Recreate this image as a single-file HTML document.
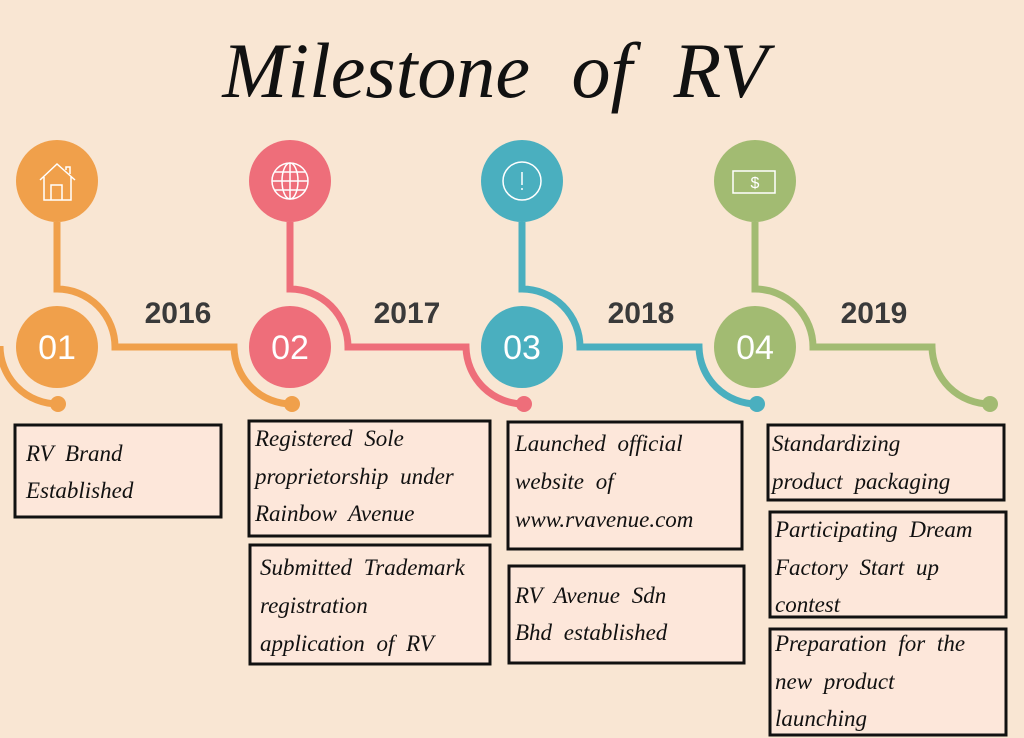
<!DOCTYPE html>
<html><head><meta charset="utf-8"><style>
html,body{margin:0;padding:0;background:#F9E6D3;}
svg{display:block}
.t{font-family:"Liberation Serif",serif;font-style:italic;font-size:23px;fill:#111;word-spacing:6px}
.y{font-family:"Liberation Sans",sans-serif;font-weight:bold;font-size:30px;fill:#3a3a3a}
.n{font-family:"Liberation Sans",sans-serif;font-size:34px;fill:#fff}
.b{fill:#FDE7DA;stroke:#111;stroke-width:3}
</style></head><body>
<svg width="1024" height="738" viewBox="0 0 1024 738">
<rect width="1024" height="738" fill="#F9E6D3"/>
<text x="495" y="97" text-anchor="middle" font-family="Liberation Serif,serif" font-style="italic" font-size="78" fill="#111" word-spacing="22">Milestone of RV</text>
<g fill="none" stroke-width="7">
<path d="M0,346 A58,58 0 0 0 58,404" stroke="#F0A04B"/>
<path d="M57,222 V289 A58,58 0 0 1 115,347 H234 A58,58 0 0 0 292,404" stroke="#F0A04B"/>
<path d="M290,222 V289 A58,58 0 0 1 348,347 H466 A58,58 0 0 0 524,404" stroke="#EE6E7A"/>
<path d="M522,222 V289 A58,58 0 0 1 580,347 H699 A58,58 0 0 0 757,404" stroke="#4AAFBF"/>
<path d="M755,222 V289 A58,58 0 0 1 813,347 H932 A58,58 0 0 0 990,404" stroke="#A2BB72"/>
</g>
<circle cx="58" cy="404" r="8" fill="#F0A04B"/>
<circle cx="292" cy="404" r="8" fill="#F0A04B"/>
<circle cx="524" cy="404" r="8" fill="#EE6E7A"/>
<circle cx="757" cy="404" r="8" fill="#4AAFBF"/>
<circle cx="990" cy="404" r="8" fill="#A2BB72"/>
<circle cx="57" cy="181" r="41" fill="#F0A04B"/>
<circle cx="290" cy="181" r="41" fill="#EE6E7A"/>
<circle cx="522" cy="181" r="41" fill="#4AAFBF"/>
<circle cx="755" cy="181" r="41" fill="#A2BB72"/>
<circle cx="57" cy="347" r="41" fill="#F0A04B"/>
<circle cx="290" cy="347" r="41" fill="#EE6E7A"/>
<circle cx="522" cy="347" r="41" fill="#4AAFBF"/>
<circle cx="755" cy="347" r="41" fill="#A2BB72"/>
<g fill="none" stroke="#fff" stroke-width="1.5">
<path d="M40,180 L57,164 L75,180 M44,177 V200 H71 V177 M51,200 V185 H62 V200 M66,170 V167 H70 V174"/>
<circle cx="290" cy="181" r="18"/><ellipse cx="290" cy="181" rx="8" ry="18"/><path d="M290,163 V199 M272,181 H308 M275,172 H305 M275,190 H305"/>
<circle cx="522" cy="181" r="19"/><path d="M522,172 V185 M522,188 V190"/>
<rect x="733" y="171" width="42" height="22"/>
</g>
<text x="755" y="188" text-anchor="middle" font-family="Liberation Sans,sans-serif" font-size="16" fill="#fff">$</text>
<text class="n" x="57" y="359" text-anchor="middle">01</text>
<text class="n" x="290" y="359" text-anchor="middle">02</text>
<text class="n" x="522" y="359" text-anchor="middle">03</text>
<text class="n" x="755" y="359" text-anchor="middle">04</text>
<text class="y" x="178" y="323" text-anchor="middle">2016</text>
<text class="y" x="407" y="323" text-anchor="middle">2017</text>
<text class="y" x="641" y="323" text-anchor="middle">2018</text>
<text class="y" x="874" y="323" text-anchor="middle">2019</text>
<rect class="b" x="15" y="425" width="206" height="92"/>
<text class="t" x="26" y="461">RV Brand</text><text class="t" x="26" y="498">Established</text>
<rect class="b" x="249" y="421" width="241" height="115"/>
<text class="t" x="255" y="446">Registered Sole</text><text class="t" x="255" y="484">proprietorship under</text><text class="t" x="255" y="521">Rainbow Avenue</text>
<rect class="b" x="250" y="545" width="240" height="119"/>
<text class="t" x="260" y="575">Submitted Trademark</text><text class="t" x="260" y="613">registration</text><text class="t" x="260" y="651">application of RV</text>
<rect class="b" x="508" y="422" width="234" height="127"/>
<text class="t" x="515" y="451">Launched official</text><text class="t" x="515" y="489">website of</text><text class="t" x="515" y="527">www.rvavenue.com</text>
<rect class="b" x="509" y="566" width="235" height="97"/>
<text class="t" x="515" y="603">RV Avenue Sdn</text><text class="t" x="515" y="640">Bhd established</text>
<rect class="b" x="768" y="425" width="236" height="75"/>
<text class="t" x="772" y="451">Standardizing</text><text class="t" x="772" y="489">product packaging</text>
<rect class="b" x="770" y="512" width="236" height="105"/>
<text class="t" x="775" y="537">Participating Dream</text><text class="t" x="775" y="575">Factory Start up</text><text class="t" x="775" y="612">contest</text>
<rect class="b" x="770" y="629" width="236" height="106"/>
<text class="t" x="775" y="651">Preparation for the</text><text class="t" x="775" y="689">new product</text><text class="t" x="775" y="726">launching</text>
</svg>
</body></html>
